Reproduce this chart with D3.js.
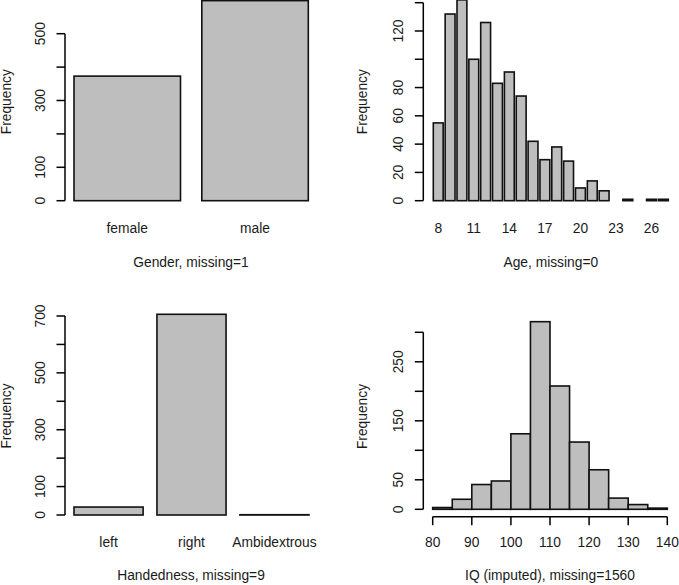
<!DOCTYPE html>
<html>
<head>
<meta charset="utf-8">
<script src="https://cdn.jsdelivr.net/npm/d3@7"></script>
<style>
  body { margin: 0; background: #fff; }
  svg { display: block; }
  text { font-family: "Liberation Sans", Arial, Helvetica, sans-serif; font-size: 13.8px; fill: #1a1a1a; }
</style>
</head>
<body>
<div id="chart"></div>
<script>
// data
const genderCats = ["female", "male"];
const genderCounts = [373, 599];
const genderTicks = [0, 100, 200, 300, 400, 500];
const genderTickLabels = [0, 100, 300, 500];

const ageCats = [8, 9, 10, 11, 12, 13, 14, 15, 16, 17, 18, 19, 20, 21, 22, 23, 24, 25, 26, 27];
const ageCounts = [55, 132, 142, 100, 126, 83, 91, 74, 42, 29, 38, 28, 9, 14, 7, 0, 1, 0, 1, 1];
const ageNameShown = [8, 11, 14, 17, 20, 23, 26];
const ageTicks = [0, 20, 40, 60, 80, 100, 120, 140];
const ageTickLabels = [0, 20, 40, 60, 80, 120];

const handCats = ["left", "right", "Ambidextrous"];
const handCounts = [28, 706, 1];
const handTicks = [0, 100, 200, 300, 400, 500, 600, 700];
const handTickLabels = [0, 100, 300, 500, 700];

const iqBreaks = [80, 85, 90, 95, 100, 105, 110, 115, 120, 125, 130, 135, 140];
const iqCounts = [3, 17, 42, 48, 128, 318, 209, 114, 67, 19, 8, 2];
const iqYTicks = [0, 50, 100, 150, 200, 250, 300];
const iqYTickLabels = [0, 50, 150, 250];
const iqXTicks = [80, 90, 100, 110, 120, 130, 140];

const titles = ["Gender, missing=1", "Age, missing=0", "Handedness, missing=9", "IQ (imputed), missing=1560"];

const width = 679, height = 585, tickLen = 8.5, fill = "#bebebe",
    axisW = 1.5, barW = 1.6;

const svg = d3.select("#chart").append("svg")
    .attr("width", width)
    .attr("height", height);

function yAxis(g, y, axisX, ticks, labels, fcx, fcy) {
    g.append("line")
        .attr("x1", axisX).attr("x2", axisX)
        .attr("y1", y(ticks[0])).attr("y2", y(ticks[ticks.length - 1]))
        .attr("stroke", "#000").attr("stroke-width", axisW);
    g.selectAll(".yt").data(ticks).enter().append("line")
        .attr("x1", axisX - tickLen).attr("x2", axisX)
        .attr("y1", d => y(d)).attr("y2", d => y(d))
        .attr("stroke", "#000").attr("stroke-width", axisW);
    g.selectAll(".yl").data(labels).enter().append("text")
        .attr("transform", d => `translate(${axisX - 20.5},${y(d)}) rotate(-90)`)
        .attr("text-anchor", "middle")
        .text(d => d);
    g.append("text")
        .attr("transform", `translate(${fcx},${fcy}) rotate(-90)`)
        .attr("text-anchor", "middle")
        .text("Frequency");
}

function barPanel(cats, counts, xr, y) {
    const g = svg.append("g");
    const n = cats.length;
    const x = d3.scaleLinear().domain([0.2, n * 1.2]).range(xr);
    g.selectAll("rect").data(counts).enter().append("rect")
        .attr("x", (d, i) => x(0.2 + i * 1.2))
        .attr("width", x(1.2) - x(0.2))
        .attr("y", d => y(d))
        .attr("height", d => y(0) - y(d))
        .attr("fill", fill)
        .attr("stroke", "#111")
        .attr("stroke-width", barW);
    return { g, x };
}

// Gender
{
    const y = d3.scaleLinear().domain([0, 500]).range([200.7, 33.7]);
    const { g, x } = barPanel(genderCats, genderCounts, [74, 308.3], y);
    g.selectAll(".cl").data(genderCats).enter().append("text")
        .attr("x", (d, i) => x(0.7 + i * 1.2)).attr("y", 233)
        .attr("text-anchor", "middle").text(d => d);
    yAxis(g, y, 65, genderTicks, genderTickLabels, 10.5, 101.7);
    g.append("text").attr("x", 191).attr("y", 267).attr("text-anchor", "middle").text(titles[0]);
}

// Age
{
    const y = d3.scaleLinear().domain([0, 140]).range([200.7, 2.7]);
    const { g, x } = barPanel(ageCats, ageCounts, [433.3, 668.3], y);
    g.selectAll(".cl").data(ageNameShown).enter().append("text")
        .attr("x", d => x(0.7 + ageCats.indexOf(d) * 1.2)).attr("y", 233)
        .attr("text-anchor", "middle").text(d => d);
    yAxis(g, y, 423.3, ageTicks, ageTickLabels, 367, 101.7);
    g.append("text").attr("x", 550.8).attr("y", 267).attr("text-anchor", "middle").text(titles[1]);
}

// Handedness
{
    const y = d3.scaleLinear().domain([0, 700]).range([515, 316]);
    const { g, x } = barPanel(handCats, handCounts, [74, 309], y);
    g.selectAll(".cl").data(handCats).enter().append("text")
        .attr("x", (d, i) => x(0.7 + i * 1.2)).attr("y", 547)
        .attr("text-anchor", "middle").text(d => d);
    yAxis(g, y, 65, handTicks, handTickLabels, 10.5, 416);
    g.append("text").attr("x", 191).attr("y", 580).attr("text-anchor", "middle").text(titles[2]);
}

// IQ histogram
{
    const g = svg.append("g");
    const y = d3.scaleLinear().domain([0, 300]).range([509.3, 332.3]);
    const x = d3.scaleLinear().domain([80, 140]).range([432.7, 667.3]);
    const bins = iqCounts.map((c, i) => ({ x0: iqBreaks[i], x1: iqBreaks[i + 1], c }));
    g.selectAll("rect").data(bins).enter().append("rect")
        .attr("x", d => x(d.x0))
        .attr("width", d => x(d.x1) - x(d.x0))
        .attr("y", d => y(d.c))
        .attr("height", d => y(0) - y(d.c))
        .attr("fill", fill)
        .attr("stroke", "#111")
        .attr("stroke-width", barW);
    const axY = 516.7;
    g.append("line")
        .attr("x1", x(iqXTicks[0])).attr("x2", x(iqXTicks[iqXTicks.length - 1]))
        .attr("y1", axY).attr("y2", axY)
        .attr("stroke", "#000").attr("stroke-width", axisW);
    g.selectAll(".xt").data(iqXTicks).enter().append("line")
        .attr("x1", d => x(d)).attr("x2", d => x(d))
        .attr("y1", axY).attr("y2", axY + tickLen)
        .attr("stroke", "#000").attr("stroke-width", axisW);
    g.selectAll(".xl").data(iqXTicks).enter().append("text")
        .attr("x", d => x(d)).attr("y", 546.7)
        .attr("text-anchor", "middle").text(d => d);
    yAxis(g, y, 423.3, iqYTicks, iqYTickLabels, 367, 416.5);
    g.append("text").attr("x", 550).attr("y", 580).attr("text-anchor", "middle").text(titles[3]);
}
</script>
</body>
</html>
